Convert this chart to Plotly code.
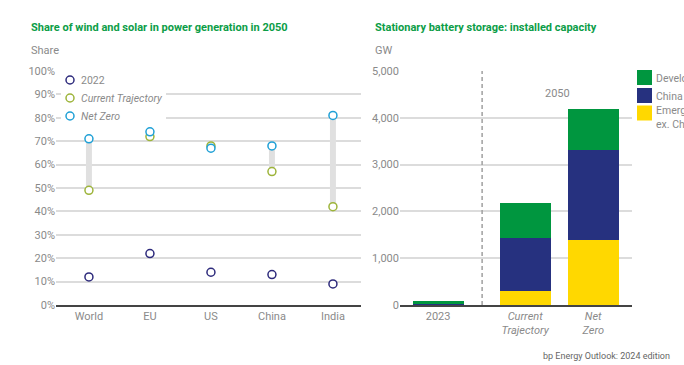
import plotly.graph_objects as go

# ---------------- data ----------------
regions = ["World", "EU", "US", "China", "India"]
share_2022 = [12, 22, 14, 13, 9]
share_ct = [49, 72, 68, 57, 42]
share_nz = [71, 74, 67, 68, 81]
share_ticks = [0, 10, 20, 30, 40, 50, 60, 70, 80, 90, 100]

storage_cats = ["2023", "<i>Current<br>Trajectory</i>", "<i>Net<br>Zero</i>"]
storage_pos = [0, 1.28, 2.28]
storage_emerging = [3, 290, 1390]
storage_china = [27, 1148, 1915]
storage_developed = [60, 739, 873]
storage_ticks = [0, 1000, 2000, 3000, 4000, 5000]

W, H = 684, 365
def px(x):
    return x / W
def py(y):
    return 1 - y / H

C_2022 = "#2e2b7c"
C_CT = "#9db43a"
C_NZ = "#1fa0d6"
C_DEV = "#00963f"
C_CHN = "#26317f"
C_EME = "#ffd800"
GREEN_T = "#0c9d47"
GRID = "#dcdcdc"
TXT = "#8a8a8a"

fig = go.Figure()

# range bars between CT and NZ
rx, ry = [], []
for i, (a, b) in enumerate(zip(share_ct, share_nz)):
    rx += [i, i, None]
    ry += [a, b, None]
fig.add_trace(go.Scatter(x=rx, y=ry, mode="lines", line=dict(color="#e0e0e0", width=6),
                         hoverinfo="skip", showlegend=False, xaxis="x", yaxis="y"))

idx = list(range(len(regions)))
for vals, col, name in [(share_2022, C_2022, "2022"), (share_ct, C_CT, "Current Trajectory"),
                        (share_nz, C_NZ, "Net Zero")]:
    fig.add_trace(go.Scatter(x=idx, y=vals, mode="markers", name=name, showlegend=False,
                             marker=dict(symbol="circle", size=8, color="white",
                                         line=dict(color=col, width=1.5)),
                             xaxis="x", yaxis="y"))

for vals, col, name in [(storage_emerging, C_EME, "Emerging ex. China"),
                        (storage_china, C_CHN, "China"),
                        (storage_developed, C_DEV, "Developed")]:
    fig.add_trace(go.Bar(x=storage_pos, y=vals, name=name, marker=dict(color=col, line=dict(width=0)),
                         width=0.75, showlegend=False, xaxis="x2", yaxis="y2"))

yd = [py(305), py(71)]
fig.update_layout(
    width=W, height=H,
    margin=dict(l=0, r=0, t=0, b=0, autoexpand=False),
    paper_bgcolor="white", plot_bgcolor="white",
    font=dict(family="Roboto", size=11, color=TXT),
    barmode="stack",
    xaxis=dict(domain=[px(56), px(361)], range=[-0.54, 4.46], tickmode="array", tickvals=idx,
               ticktext=regions, showgrid=False, zeroline=False, showline=True,
               linecolor="#444444", linewidth=1.5, ticks="", fixedrange=True),
    yaxis=dict(domain=yd, range=[0, 100], tickmode="array", tickvals=share_ticks,
               ticktext=[f"{t}%" for t in share_ticks], showgrid=True, gridcolor=GRID,
               gridwidth=1.5, zeroline=False, showline=False, ticks=""),
    xaxis2=dict(domain=[px(400), px(632)], range=[-0.56, 2.85], tickmode="array",
                tickvals=storage_pos, ticktext=storage_cats, showgrid=False, zeroline=False,
                showline=True, linecolor="#444444", linewidth=1.5, ticks="", anchor="y2"),
    yaxis2=dict(domain=yd, range=[0, 5000], tickmode="array", tickvals=storage_ticks,
                ticktext=[f"{t:,}" for t in storage_ticks], showgrid=True, gridcolor=GRID,
                gridwidth=1.5, zeroline=False, showline=False, ticks="", anchor="x2"),
)

shapes = []
annots = []
# dashed separator
shapes.append(dict(type="line", xref="x2", yref="paper", x0=0.647, x1=0.647, y0=yd[0], y1=yd[1],
                   line=dict(color="#a0a0a0", width=1.5, dash="4px,3px")))
annots.append(dict(x=1.75, y=py(85), xref="x2", yref="paper", text="2050", showarrow=False,
                   font=dict(size=11, color=TXT)))

# titles
annots.append(dict(x=px(29), y=py(27), xref="paper", yref="paper", xanchor="left", yanchor="middle",
                   text="<b>Share of wind and solar in power generation in 2050</b>", showarrow=False,
                   font=dict(size=11, color=GREEN_T)))
annots.append(dict(x=px(373), y=py(27), xref="paper", yref="paper", xanchor="left", yanchor="middle",
                   text="<b>Stationary battery storage: installed capacity</b>", showarrow=False,
                   font=dict(size=11, color=GREEN_T)))
annots.append(dict(x=px(29), y=py(50), xref="paper", yref="paper", xanchor="left", yanchor="middle",
                   text="Share", showarrow=False, font=dict(size=11, color=TXT)))
annots.append(dict(x=px(373), y=py(50), xref="paper", yref="paper", xanchor="left", yanchor="middle",
                   text="GW", showarrow=False, font=dict(size=11, color=TXT)))

# left legend
shapes.append(dict(type="rect", xref="paper", yref="paper", x0=px(61), x1=px(166), y0=py(126), y1=py(73),
                   fillcolor="white", line=dict(width=0), layer="above"))
for yy, col, label in [(80, C_2022, "2022"), (98, C_CT, "<i>Current Trajectory</i>"),
                       (116, C_NZ, "<i>Net Zero</i>")]:
    shapes.append(dict(type="circle", xref="paper", yref="paper", x0=px(66), x1=px(74),
                       y0=py(yy + 4), y1=py(yy - 4), fillcolor="white",
                       line=dict(color=col, width=1.5), layer="above"))
    annots.append(dict(x=px(79), y=py(yy), xref="paper", yref="paper", xanchor="left", yanchor="middle",
                       text=label, showarrow=False, font=dict(size=10.5, color=TXT)))

# right legend (clipped at the right edge, as in the original)
for y0, col, label, ty in [(70, C_DEV, "Developed", 78), (88, C_CHN, "China", 96),
                           (105.5, C_EME, "Emerging<br>ex. China", 117.5)]:
    shapes.append(dict(type="rect", xref="paper", yref="paper", x0=px(637), x1=px(652),
                       y0=py(y0 + 15), y1=py(y0), fillcolor=col, line=dict(width=0), layer="above"))
    annots.append(dict(x=px(654), y=py(ty), xref="paper", yref="paper", xanchor="left", yanchor="middle",
                       text=label, showarrow=False, align="left",
                       font=dict(size=10.5, color=TXT)))

# footer
annots.append(dict(x=px(672), y=py(356), xref="paper", yref="paper", xanchor="right", yanchor="middle",
                   text="bp Energy Outlook: 2024 edition", showarrow=False,
                   font=dict(size=9, color="#666666")))

fig.update_layout(shapes=shapes, annotations=annots)
fig.write_html("out.html", config={"displayModeBar": False},
               post_script="document.body.style.margin='0';document.body.style.overflow='hidden';")
